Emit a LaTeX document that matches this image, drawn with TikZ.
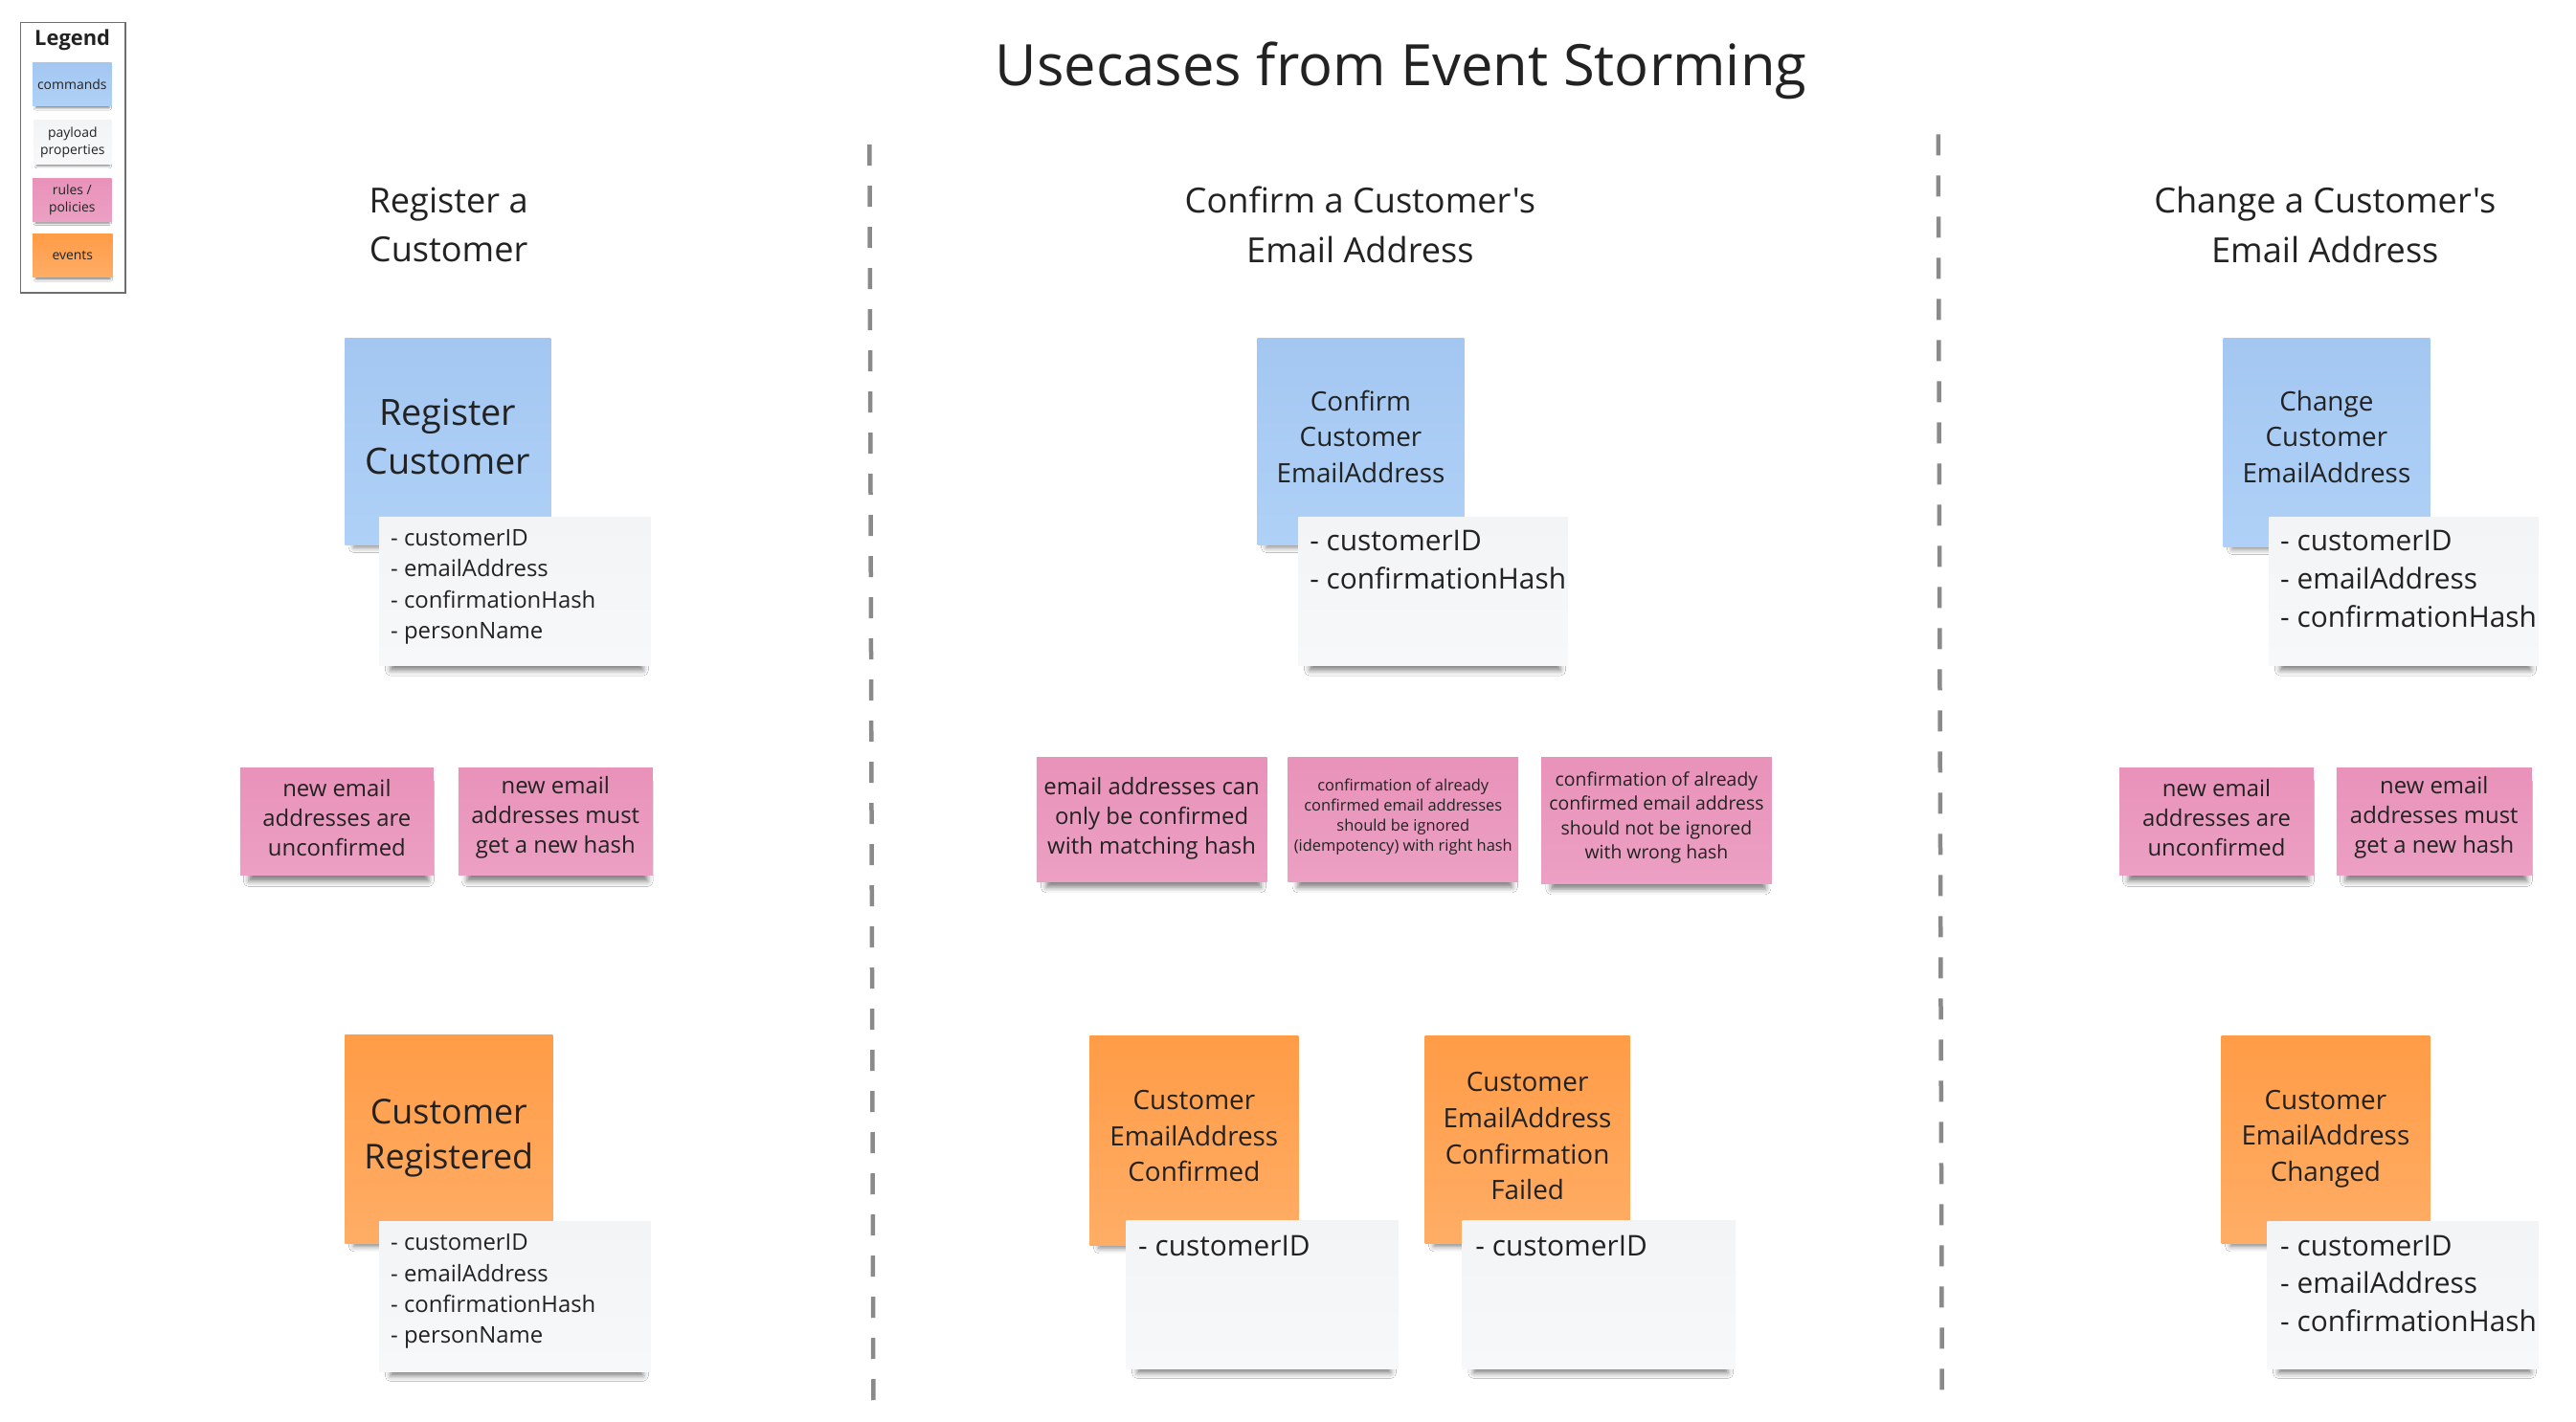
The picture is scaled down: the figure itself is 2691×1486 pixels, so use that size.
\documentclass[tikz,border=0pt]{standalone}
\usepackage{fontspec}
\setmainfont{Open Sans}[Ligatures=TeXOff]
\usetikzlibrary{shadows.blur,calc}
\definecolor{txt}{HTML}{222222}
\definecolor{blueT}{HTML}{A4C7F2}
\definecolor{blueB}{HTML}{AFD1F7}
\definecolor{pinkT}{HTML}{E992BA}
\definecolor{pinkB}{HTML}{ECA0C3}
\definecolor{orT}{HTML}{FF9C47}
\definecolor{orB}{HTML}{FFAD66}
\definecolor{cardT}{HTML}{F3F4F6}
\definecolor{cardB}{HTML}{F7F8FA}
\definecolor{divcol}{HTML}{8A8A8A}
\definecolor{legcol}{HTML}{6E6E6E}
\begin{document}
\begin{tikzpicture}[x=1pt,y=-1pt,
  bigshadow/.style={blur shadow={shadow xshift=2pt,shadow yshift=-11pt,shadow blur radius=6pt,shadow opacity=50,shadow scale=0.93}},
  smallshadow/.style={blur shadow={shadow xshift=0.5pt,shadow yshift=-4pt,shadow blur radius=2.5pt,shadow opacity=50,shadow scale=0.93}},
  note/.style={draw=none,inner sep=0pt,anchor=north west,align=center,text=txt},
  ntext/.style={inner sep=0pt,align=center,text=txt},
  cmd/.style={note,top color=blueT,bottom color=blueB},
  rulenote/.style={note,top color=pinkT,bottom color=pinkB},
  evnote/.style={note,top color=orT,bottom color=orB},
  card/.style={note,top color=cardT,bottom color=cardB},
  cardtext/.style={inner sep=0pt,anchor=north west,align=left,text=txt},
  heading/.style={align=center,text=txt,font=\fontsize{36.3}{52}\selectfont},
  divider/.style={draw=divcol,line width=4.5pt,dash pattern=on 22pt off 21pt},
  fa/.style={font=\fontsize{24}{31}\selectfont},
  fb/.style={font=\fontsize{28}{38}\selectfont},
  fc/.style={font=\fontsize{24}{32.5}\selectfont},
  fd/.style={font=\fontsize{30}{40}\selectfont},
]
\useasboundingbox[fill=white] (0,0) rectangle (2691,1486);
\begin{scope}[scale=0.995,transform shape]

% Legend
\node[draw=legcol,line width=1.5pt,anchor=north west,minimum width=110pt,minimum height=284pt,inner sep=0pt] (legend) at (21,23) {};
\node[text=txt,font=\bfseries\fontsize{22}{26}\selectfont] (legtitle) at (76,42) {Legend};
\node[cmd,smallshadow,minimum width=83pt,minimum height=45pt,font=\fontsize{14}{17}\selectfont] (lc) at (34,66) {commands};
\node[card,smallshadow,minimum width=82pt,minimum height=46pt,font=\fontsize{14}{18}\selectfont] (lp) at (35,126) {payload\\properties};
\node[rulenote,smallshadow,minimum width=83pt,minimum height=45pt,font=\fontsize{14}{18}\selectfont] (lr) at (34,187) {rules /\\policies};
\node[evnote,smallshadow,minimum width=84pt,minimum height=45pt,font=\fontsize{14}{17}\selectfont] (le) at (34,246) {events};

% Title and headings
\node[text=txt,font=\fontsize{60}{70}\selectfont] (title) at (1471,74) {Usecases from Event Storming};
\node[heading] (h1) at (471,236) {Register a\\Customer};
\node[heading] (h2) at (1428,236) {Confirm a Customer's\\Email Address};
\node[heading] (h3) at (2441,236) {Change a Customer's\\Email Address};

% Dividers
\coordinate (d1t) at (913,152);
\coordinate (d1b) at (917,1480);
\coordinate (d2t) at (2035,141);
\coordinate (d2b) at (2039,1470);
\draw[divider] (d1t) -- (d1b);
\draw[divider] (d2t) -- (d2b);

% Register a Customer
\node[cmd,bigshadow,minimum width=216pt,minimum height=217pt] (rc) at (362,355) {};
\node[ntext,font=\fontsize{38}{52}\selectfont] (rct) at ($(rc.center)+(0,-5)$) {Register\\Customer};
\node[card,bigshadow,minimum width=285pt,minimum height=156pt] (rcw) at (398,543) {};
\node[cardtext,fc] (rcwt) at (410,556) {- customerID\\- emailAddress\\- confirmationHash\\- personName};
\node[rulenote,bigshadow,minimum width=203pt,minimum height=113pt] (rp1) at (252,806) {};
\node[ntext,fa] (rp1t) at ($(rp1.center)+(0,-4)$) {new email\\addresses are\\unconfirmed};
\node[rulenote,bigshadow,minimum width=204pt,minimum height=113pt] (rp2) at (481,806) {};
\node[ntext,fa] (rp2t) at ($(rp2.center)+(0,-4)$) {new email\\addresses must\\get a new hash};
\node[evnote,bigshadow,minimum width=218pt,minimum height=219pt] (re) at (362,1087) {};
\node[ntext,font=\fontsize{36}{47}\selectfont] (ret) at ($(re.center)+(0,-1)$) {Customer\\Registered};
\node[card,bigshadow,minimum width=285pt,minimum height=157pt] (rew) at (398,1283) {};
\node[cardtext,fc] (rewt) at (410,1296) {- customerID\\- emailAddress\\- confirmationHash\\- personName};

% Confirm a Customer's Email Address
\node[cmd,bigshadow,minimum width=217pt,minimum height=217pt] (cc) at (1320,355) {};
\node[ntext,fb] (cct) at ($(cc.center)+(0,-5)$) {Confirm\\Customer\\EmailAddress};
\node[card,bigshadow,minimum width=283pt,minimum height=156pt] (ccw) at (1363,543) {};
\node[cardtext,fd] (ccwt) at (1375,557) {- customerID\\- confirmationHash};
\node[rulenote,bigshadow,minimum width=242pt,minimum height=131pt] (cp1) at (1088,795) {};
\node[ntext,fa] (cp1t) at ($(cp1.center)+(0,-1)$) {email addresses can\\only be confirmed\\with matching hash};
\node[rulenote,bigshadow,minimum width=242pt,minimum height=131pt] (cp2) at (1352,795) {};
\node[ntext,font=\fontsize{16.5}{21}\selectfont] (cp2t) at ($(cp2.center)+(0,-3)$) {confirmation of already\\confirmed email addresses\\should be ignored\\(idempotency) with right hash};
\node[rulenote,bigshadow,minimum width=242pt,minimum height=133pt] (cp3) at (1618,795) {};
\node[ntext,font=\fontsize{19.5}{25.5}\selectfont] (cp3t) at ($(cp3.center)+(0,-3)$) {confirmation of already\\confirmed email address\\should not be ignored\\with wrong hash};
\node[evnote,bigshadow,minimum width=219pt,minimum height=220pt] (ce1) at (1144,1088) {};
\node[ntext,fb] (ce1t) at ($(ce1.center)+(0,-5)$) {Customer\\EmailAddress\\Confirmed};
\node[card,bigshadow,minimum width=286pt,minimum height=155pt] (ce1w) at (1182,1282) {};
\node[cardtext,fd] (ce1wt) at (1195,1297) {- customerID};
\node[evnote,bigshadow,minimum width=215pt,minimum height=218pt] (ce2) at (1496,1088) {};
\node[ntext,fb] (ce2t) at ($(ce2.center)+(0,-4)$) {Customer\\EmailAddress\\Confirmation\\Failed};
\node[card,bigshadow,minimum width=287pt,minimum height=155pt] (ce2w) at (1535,1282) {};
\node[cardtext,fd] (ce2wt) at (1549,1297) {- customerID};

% Change a Customer's Email Address
\node[cmd,bigshadow,minimum width=217pt,minimum height=219pt] (xc) at (2334,355) {};
\node[ntext,fb] (xct) at ($(xc.center)+(0,-6)$) {Change\\Customer\\EmailAddress};
\node[card,bigshadow,minimum width=283pt,minimum height=156pt] (xcw) at (2382,543) {};
\node[cardtext,fd] (xcwt) at (2394,557) {- customerID\\- emailAddress\\- confirmationHash};
\node[rulenote,bigshadow,minimum width=204pt,minimum height=113pt] (xp1) at (2225,806) {};
\node[ntext,fa] (xp1t) at ($(xp1.center)+(0,-4)$) {new email\\addresses are\\unconfirmed};
\node[rulenote,bigshadow,minimum width=205pt,minimum height=113pt] (xp2) at (2453,806) {};
\node[ntext,fa] (xp2t) at ($(xp2.center)+(0,-4)$) {new email\\addresses must\\get a new hash};
\node[evnote,bigshadow,minimum width=219pt,minimum height=218pt] (xe) at (2332,1088) {};
\node[ntext,fb] (xet) at ($(xe.center)+(0,-1)$) {Customer\\EmailAddress\\Changed};
\node[card,bigshadow,minimum width=285pt,minimum height=154pt] (xew) at (2380,1283) {};
\node[cardtext,fd] (xewt) at (2394,1297) {- customerID\\- emailAddress\\- confirmationHash};
\end{scope}
\end{tikzpicture}
\end{document}
